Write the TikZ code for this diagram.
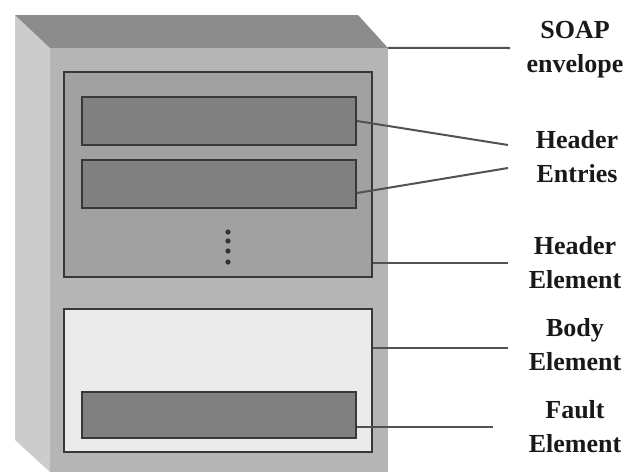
\documentclass[tikz,border=0pt]{standalone}
\usepackage{fontspec}
\setmainfont{Liberation Serif}
\begin{document}
\begin{tikzpicture}[x=1pt,y=-1pt,
  box/.style={rectangle,draw=black!78,line width=2pt,inner sep=0pt},
  lead/.style={draw=black!68,line width=2pt},
  lbl/.style={align=center,font=\fontsize{26}{34}\selectfont\bfseries,inner sep=0pt,text=black!90}]
\useasboundingbox (0,0) rectangle (631,472);
\fill[white] (0,0) rectangle (631,472);
% cabinet faces
\fill[black!20] (15,15) -- (50,48) -- (50,472) -- (15,440) -- cycle;
\fill[black!45] (15,15) -- (358,15) -- (388,48) -- (50,48) -- cycle;
\fill[black!29] (50,48) rectangle (388,472);
\node (env) [rectangle,inner sep=0pt,minimum width=338pt,minimum height=424pt] at (219,260) {};
% header element
\node (hdr) [box,fill=black!37,minimum width=308pt,minimum height=205pt] at (218,174.5) {};
\node (e1) [box,fill=black!50,minimum width=274pt,minimum height=48pt] at (219,121) {};
\node (e2) [box,fill=black!50,minimum width=274pt,minimum height=48pt] at (219,184) {};
\foreach \yy [count=\i] in {232,241,251,262} \fill[black!80] (228,\yy) circle (2.6pt) coordinate (d\i);
% body element
\node (body) [box,fill=black!8,minimum width=308pt,minimum height=143pt] at (218,380.5) {};
\node (fault) [box,fill=black!50,minimum width=274pt,minimum height=46pt] at (219,415) {};
% labels
\node (lenv) [lbl] at (575,49.5) {SOAP\\envelope};
\node (lent) [lbl] at (577,156.5) {Header\\Entries};
\node (lhdr) [lbl] at (575,262.5) {Header\\Element};
\node (lbody) [lbl] at (575,345) {Body\\Element};
\node (lfault) [lbl] at (575,426.5) {Fault\\Element};
% leader end points
\coordinate (cenv) at (510,48);
\coordinate (ce1) at (508,145);
\coordinate (ce2) at (508,168);
\coordinate (chdr) at (508,263);
\coordinate (cbody) at (508,348);
\coordinate (cfault) at (493,427);
% leaders
\draw[lead] (env.north east) -- (cenv);
\draw[lead] (e1.east) -- (ce1);
\draw[lead] ([yshift=-9pt]e2.east) -- (ce2);
\draw[lead] (hdr.east |- chdr) -- (chdr);
\draw[lead] (body.east |- cbody) -- (cbody);
\draw[lead] (fault.east |- cfault) -- (cfault);
\end{tikzpicture}
\end{document}
